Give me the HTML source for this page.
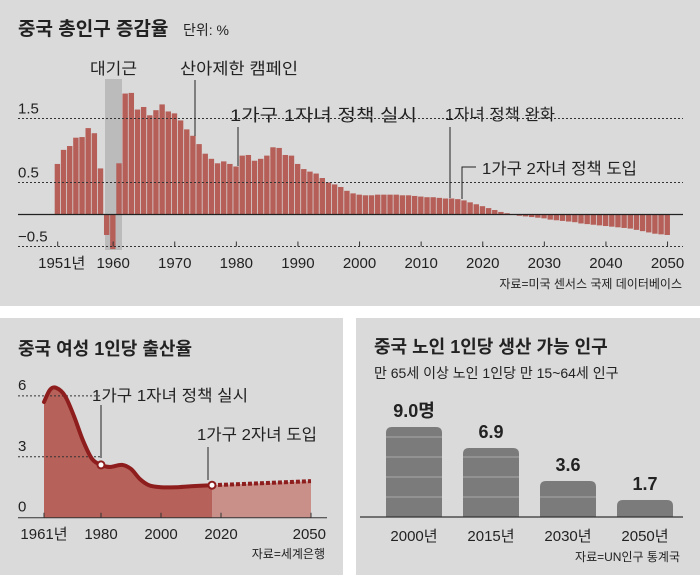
<!DOCTYPE html>
<html><head><meta charset="utf-8">
<style>
html,body{margin:0;padding:0;background:#fff;}
body{width:700px;height:575px;overflow:hidden;font-family:"Liberation Sans","Noto Sans CJK KR",sans-serif;}
svg text{font-family:"Liberation Sans","Noto Sans CJK KR",sans-serif;fill:#222;}
</style></head>
<body>
<svg id="svg" width="700" height="575" viewBox="0 0 700 575" xmlns="http://www.w3.org/2000/svg">
<rect x="0" y="0" width="700" height="575" fill="#fff"/>
<rect x="0" y="0" width="700" height="306" fill="#dadada"/>
<rect x="0" y="318" width="343" height="257" fill="#dadada"/>
<rect x="356" y="318" width="344" height="257" fill="#dadada"/>

<g id="top">
<text x="18" y="35" font-size="19" font-weight="bold">중국 총인구 증감율</text>
<text x="183" y="35" font-size="14">단위: %</text>
<rect x="105" y="79" width="17" height="171" fill="#b0b0b0" opacity="0.75"/>
<g id="topBars"></g>
<g id="topGrid"></g>
<text x="90" y="74" font-size="16" textLength="47" lengthAdjust="spacingAndGlyphs">대기근</text>
<text x="180" y="74" font-size="16" textLength="118" lengthAdjust="spacingAndGlyphs">산아제한 캠페인</text>
<line x1="195" y1="80" x2="195" y2="136" stroke="#222" stroke-width="1"/>
<text x="230" y="121" font-size="17" textLength="187" lengthAdjust="spacingAndGlyphs">1가구 1자녀 정책 실시</text>
<line x1="238" y1="127" x2="238" y2="166" stroke="#222" stroke-width="1"/>
<text x="445" y="120" font-size="16" textLength="110" lengthAdjust="spacingAndGlyphs">1자녀 정책 완화</text>
<line x1="450" y1="127" x2="450" y2="198" stroke="#222" stroke-width="1"/>
<text x="482" y="174" font-size="16" textLength="155" lengthAdjust="spacingAndGlyphs">1가구 2자녀 정책 도입</text>
<polyline points="476,167 462,167 462,199" fill="none" stroke="#222" stroke-width="1"/>
<text x="682" y="288" font-size="12" text-anchor="end">자료=미국 센서스 국제 데이터베이스</text>
</g>

<g id="fert">
<text x="18" y="355" font-size="18" font-weight="bold">중국 여성 1인당 출산율</text>
<g id="fertMarks"></g>
<text x="92" y="401" font-size="16" textLength="156" lengthAdjust="spacingAndGlyphs">1가구 1자녀 정책 실시</text>
<line x1="101" y1="405" x2="101" y2="458" stroke="#222" stroke-width="1"/>
<text x="197" y="440" font-size="16" textLength="120" lengthAdjust="spacingAndGlyphs">1가구 2자녀 도입</text>
<line x1="208" y1="447" x2="208" y2="480" stroke="#222" stroke-width="1"/>
<text x="325" y="558" font-size="12" text-anchor="end">자료=세계은행</text>
</g>

<g id="sup">
<text x="374" y="353" font-size="18" font-weight="bold">중국 노인 1인당 생산 가능 인구</text>
<text x="374" y="378" font-size="14">만 65세 이상 노인 1인당 만 15~64세 인구</text>
<g id="supMarks"></g>
<text x="680" y="561" font-size="12" text-anchor="end">자료=UN인구 통계국</text>
</g>
</svg>
<script>
const NS="http://www.w3.org/2000/svg";
const growthStartYear=1951;
const growthValues=[
0.79,1.01,1.07,1.2,1.21,1.35,1.27,0.72,-0.32,-0.54,
0.8,1.89,1.9,1.64,1.68,1.55,1.63,1.72,1.61,1.58,
1.47,1.33,1.23,1.1,0.95,0.87,0.8,0.83,0.79,0.75,
0.92,0.93,0.84,0.87,0.92,1.05,1.04,0.93,0.92,0.79,
0.71,0.67,0.64,0.57,0.5,0.47,0.43,0.37,0.33,0.31,
0.3,0.3,0.31,0.31,0.31,0.31,0.3,0.3,0.29,0.28,
0.27,0.27,0.26,0.25,0.25,0.24,0.22,0.19,0.16,0.13,
0.1,0.07,0.04,0.02,0.0,-0.02,-0.03,-0.04,-0.05,-0.06,
-0.08,-0.09,-0.1,-0.11,-0.12,-0.14,-0.15,-0.16,-0.17,-0.18,
-0.19,-0.2,-0.21,-0.22,-0.24,-0.26,-0.28,-0.3,-0.31,-0.32];
const growthYTicks=[1.5,0.5,-0.5];
const growthYTickLabels=["1.5","0.5","−0.5"];
const growthXTicks=[1951,1960,1970,1980,1990,2000,2010,2020,2030,2040,2050];
const growthXTickLabels=["1951년","1960","1970","1980","1990","2000","2010","2020","2030","2040","2050"];
const fertYears=[1961,1963,1965,1968,1971,1974,1977,1980,1983,1987,1990,1993,1996,2000,2005,2010,2017];
const fertValues=[5.7,6.3,6.4,6.0,5.0,3.8,2.9,2.6,2.5,2.6,2.4,1.9,1.6,1.5,1.5,1.55,1.6];
const fertFutureYears=[2017,2050];
const fertFutureValues=[1.6,1.8];
const fertMarkerYears=[1980,2017];
const fertMarkerValues=[2.6,1.6];
const fertYTicks=[6,3,0];
const fertXTicks=[1961,1980,2000,2020,2050];
const fertXTickLabels=["1961년","1980","2000","2020","2050"];
const supCategories=["2000년","2015년","2030년","2050년"];
const supValues=[9.0,6.9,3.6,1.7];
const supValueLabels=["9.0명","6.9","3.6","1.7"];

function mk(tag,attrs,parent,text){const e=document.createElementNS(NS,tag);for(const k in attrs)e.setAttribute(k,attrs[k]);if(text!==undefined)e.textContent=text;parent.appendChild(e);return e;}

const gx=y=>57.7+(y-1951)*6.16;
const gy=v=>214.5-v*64;
const bars=document.getElementById('topBars');
growthValues.forEach((v,i)=>{
  const yr=growthStartYear+i;
  const y0=gy(0),y1=gy(v);
  const r=mk('rect',{x:gx(yr)-3,y:Math.min(y0,y1),width:5.4,height:Math.abs(y1-y0),fill:'#b55f58'},bars);
  
  
});
const grid=document.getElementById('topGrid');
growthYTicks.forEach((t,i)=>{
  const l=mk('line',{x1:18,x2:683,y1:gy(t),y2:gy(t),stroke:'#333','stroke-width':1,'stroke-dasharray':'2,2'},grid);
  
  
  const tx=mk('text',{x:18,y:gy(t)-5,'font-size':15},grid,growthYTickLabels[i]);
  
  
});
const zl=mk('line',{x1:18,x2:683,y1:gy(0),y2:gy(0),stroke:'#222','stroke-width':1.2},grid);


growthXTicks.forEach((t,i)=>{
  const l=mk('line',{x1:gx(t),x2:gx(t),y1:gy(-0.5)-5,y2:gy(-0.5),stroke:'#333','stroke-width':1},grid);
  
  
  const tx=mk('text',{x:gx(t)+(i===0?4:0),y:268,'font-size':15,'text-anchor':'middle'},grid,growthXTickLabels[i]);
  
  
});

const fx=y=>44+(y-1961)*3;
const fy=v=>517.7-v*20.3;
const fm=document.getElementById('fertMarks');
function smooth(pts){let d='M'+pts[0][0]+','+pts[0][1];for(let i=0;i<pts.length-1;i++){const p0=pts[i-1]||pts[i],p1=pts[i],p2=pts[i+1],p3=pts[i+2]||p2;const c1=[p1[0]+(p2[0]-p0[0])/6,p1[1]+(p2[1]-p0[1])/6],c2=[p2[0]-(p3[0]-p1[0])/6,p2[1]-(p3[1]-p1[1])/6];d+=' C'+c1+' '+c2+' '+p2;}return d;}
const pts=fertYears.map((y,i)=>[fx(y),fy(fertValues[i])]);
const curve=smooth(pts);
const area=mk('path',{d:curve+' L'+fx(fertYears[fertYears.length-1])+','+fy(0)+' L'+fx(fertYears[0])+','+fy(0)+' Z',fill:'#b6625b'},fm);


const fpts=fertFutureYears.map((y,i)=>[fx(y),fy(fertFutureValues[i])]);
const farea=mk('path',{d:'M'+fpts[0]+' L'+fpts[1]+' L'+fpts[1][0]+','+fy(0)+' L'+fpts[0][0]+','+fy(0)+' Z',fill:'#c99089'},fm);


fertYTicks.forEach(t=>{
  if(t>0){const l=mk('line',{x1:18,x2:fx(1980),y1:fy(t),y2:fy(t),stroke:'#333','stroke-width':1,'stroke-dasharray':'2,2'},fm);
  
  }
  const tx=mk('text',{x:18,y:fy(t)-6,'font-size':15},fm,String(t));
  
  
});
const line=mk('path',{d:curve,fill:'none',stroke:'#8e1d1d','stroke-width':4,'stroke-linecap':'round'},fm);


const fl=mk('path',{d:'M'+fpts[0]+' L'+fpts[1],fill:'none',stroke:'#8e1d1d','stroke-width':4,'stroke-dasharray':'4,2'},fm);


const ax=mk('line',{x1:18,x2:327,y1:fy(0),y2:fy(0),stroke:'#333','stroke-width':1},fm);


fertXTicks.forEach((t,i)=>{
  const l=mk('line',{x1:fx(t),x2:fx(t),y1:fy(0)-5,y2:fy(0),stroke:'#333','stroke-width':1},fm);
  
  
  const last=i===fertXTicks.length-1;
  const tx=mk('text',{x:last?326:fx(t),y:539,'font-size':15,'text-anchor':last?'end':'middle'},fm,fertXTickLabels[i]);
  
  
});
fertMarkerYears.forEach((y,i)=>{
  const c=mk('circle',{cx:fx(y),cy:fy(fertMarkerValues[i]),r:3.5,fill:'#fff',stroke:'#8e1d1d','stroke-width':2},fm);
  
  
});

const sm=document.getElementById('supMarks');
const sx=i=>386+i*77;
const sy=v=>517-v*10;
const bw=56;
supValues.forEach((v,i)=>{
  const x=sx(i),y=sy(v),h=517-y,r=6;
  const b=mk('path',{d:`M${x},517 L${x},${y+r} Q${x},${y} ${x+r},${y} L${x+bw-r},${y} Q${x+bw},${y} ${x+bw},${y+r} L${x+bw},517 Z`,fill:'#7b7b7b'},sm);
  
  
  for(let k=1;k*20<h-4;k++){
    const gl=mk('line',{x1:x,x2:x+bw,y1:517-k*20,y2:517-k*20,stroke:'#a8a8a8','stroke-width':1},sm);
    
    
  }
  const vt=mk('text',{x:x+bw/2,y:y-10,'font-size':18,'font-weight':'bold','text-anchor':'middle'},sm,supValueLabels[i]);
  
  
  const ct=mk('text',{x:x+bw/2,y:541,'font-size':15,'text-anchor':'middle'},sm,supCategories[i]);
  
  
});
const sa=mk('line',{x1:360,x2:683,y1:517,y2:517,stroke:'#333','stroke-width':1.2},sm);


</script>
</body></html>
